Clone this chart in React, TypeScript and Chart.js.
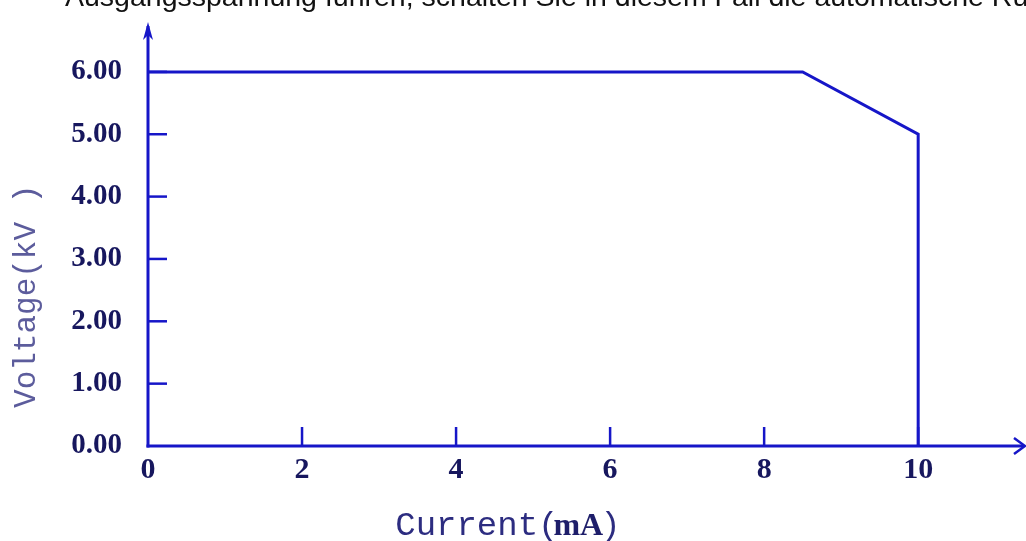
import React, { useEffect, useRef } from "react";
import { Chart, registerables } from "chart.js";

Chart.register(...registerables);

// Data
const currentValues = [0, 8.5, 10, 10]; // mA
const voltageValues = [6, 6, 5, 0]; // kV
const xTickValues = [0, 2, 4, 6, 8, 10];
const yTickValues = [0, 1, 2, 3, 4, 5, 6];
const xAxisMax = 11.4;
const yAxisMax = 6.8;
const xTitleMain = "Current";
const xTitleUnit = "mA";
const yTitle = "Voltage(kV )";
const topText =
  "Ausgangsspannung führen, schalten Sie in diesem Fall die automatische Rückstellung ein";

const BLUE = "#1616c8";
const NAVY = "#17175e";

const axesPlugin = {
  id: "arrowAxes",
  beforeDatasetsDraw(chart: any) {
    const { ctx, scales } = chart;
    const xs = scales.x;
    const ys = scales.y;
    const x0 = xs.getPixelForValue(0);
    const y0 = ys.getPixelForValue(0);
    const xEnd = xs.getPixelForValue(xAxisMax);
    const yEnd = ys.getPixelForValue(yAxisMax);
    ctx.save();
    ctx.strokeStyle = BLUE;
    ctx.fillStyle = BLUE;
    ctx.lineWidth = 3;
    ctx.lineCap = "butt";
    // y axis
    ctx.beginPath();
    ctx.moveTo(x0, y0 + 1.5);
    ctx.lineTo(x0, yEnd + 4);
    ctx.stroke();
    // y arrow head
    ctx.beginPath();
    ctx.moveTo(x0, yEnd);
    ctx.lineTo(x0 - 5, yEnd + 18);
    ctx.lineTo(x0, yEnd + 13);
    ctx.lineTo(x0 + 5, yEnd + 18);
    ctx.closePath();
    ctx.fill();
    // x axis
    ctx.beginPath();
    ctx.moveTo(x0 - 1.5, y0);
    ctx.lineTo(xEnd - 2, y0);
    ctx.stroke();
    // x arrow head (chevron)
    ctx.lineWidth = 2.5;
    ctx.beginPath();
    ctx.moveTo(xEnd - 12, y0 - 8);
    ctx.lineTo(xEnd - 1, y0);
    ctx.lineTo(xEnd - 12, y0 + 8);
    ctx.stroke();
    // inner ticks
    ctx.lineWidth = 2.5;
    yTickValues.forEach((v) => {
      if (v === 0) return;
      const py = ys.getPixelForValue(v);
      ctx.beginPath();
      ctx.moveTo(x0, py);
      ctx.lineTo(x0 + 19, py);
      ctx.stroke();
    });
    xTickValues.forEach((v) => {
      if (v === 0) return;
      const px = xs.getPixelForValue(v);
      ctx.beginPath();
      ctx.moveTo(px, y0);
      ctx.lineTo(px, y0 - 19);
      ctx.stroke();
    });
    ctx.restore();
  },
  afterDraw(chart: any) {
    const { ctx, scales } = chart;
    const xs = scales.x;
    const ys = scales.y;
    ctx.save();
    // x title
    ctx.textBaseline = "alphabetic";
    ctx.textAlign = "left";
    const tx = xs.getPixelForValue(3.21);
    const ty = ys.getPixelForValue(0) + 89;
    ctx.fillStyle = "#2c2c80";
    ctx.font = "34px 'Liberation Mono'";
    ctx.fillText(xTitleMain + "(", tx, ty);
    const w1 = ctx.measureText(xTitleMain + "(").width;
    ctx.fillStyle = "#1e1e6a";
    ctx.font = "bold 32px 'Liberation Serif'";
    ctx.fillText(xTitleUnit, tx + w1 - 5, ty);
    const w2 = ctx.measureText(xTitleUnit).width;
    ctx.fillStyle = "#2c2c80";
    ctx.font = "34px 'Liberation Mono'";
    ctx.fillText(")", tx + w1 - 5 + w2 - 3, ty);
    // y title
    ctx.translate(27, ys.getPixelForValue(2.4));
    ctx.rotate(-Math.PI / 2);
    ctx.fillStyle = "#5c5c9c";
    ctx.font = "31px 'Liberation Mono'";
    ctx.textAlign = "center";
    ctx.textBaseline = "middle";
    ctx.fillText(yTitle, 0, 0);
    ctx.restore();
  },
};

export default function App() {
  const canvasRef = useRef<HTMLCanvasElement | null>(null);

  useEffect(() => {
    document.body.style.margin = "0";
    const canvas = canvasRef.current;
    if (!canvas) return;
    const chart = new Chart(canvas, {
      type: "scatter",
      data: {
        datasets: [
          {
            data: currentValues.map((c, i) => ({ x: c, y: voltageValues[i] })),
            showLine: true,
            borderColor: BLUE,
            borderWidth: 3,
            pointRadius: 0,
            fill: false,
            tension: 0,
          },
        ],
      },
      options: {
        animation: false,
        responsive: false,
        devicePixelRatio: 1,
        layout: { padding: { top: 22, right: 0, left: 0, bottom: 0 } },
        plugins: {
          legend: { display: false },
          tooltip: { enabled: false },
          title: { display: false },
        },
        scales: {
          x: {
            type: "linear",
            min: 0,
            max: xAxisMax,
            grid: { display: false, drawTicks: false },
            border: { display: false },
            afterBuildTicks: (scale: any) => {
              scale.ticks = xTickValues.map((v) => ({ value: v }));
            },
            afterFit: (scale: any) => {
              scale.height = 95;
              scale.paddingLeft = 0;
              scale.paddingRight = 0;
            },
            ticks: {
              color: NAVY,
              padding: 6,
              font: { family: "'Liberation Serif'", size: 30, weight: "bold" },
              callback: (v: any) => String(v),
              maxRotation: 0,
              autoSkip: false,
            },
          },
          y: {
            type: "linear",
            min: 0,
            max: yAxisMax,
            grid: { display: false, drawTicks: false },
            border: { display: false },
            afterBuildTicks: (scale: any) => {
              scale.ticks = yTickValues.map((v) => ({ value: v }));
            },
            afterFit: (scale: any) => {
              scale.width = 148;
              scale.paddingTop = 0;
              scale.paddingBottom = 0;
            },
            ticks: {
              color: NAVY,
              padding: 26,
              font: { family: "'Liberation Serif'", size: 29, weight: "bold" },
              callback: (v: any) => Number(v).toFixed(2),
              autoSkip: false,
            },
          },
        },
      },
      plugins: [axesPlugin],
    } as any);
    return () => chart.destroy();
  }, []);

  return (
    <div style={{ position: "relative", width: 1026, height: 541, overflow: "hidden", background: "#fff" }}>
      <canvas ref={canvasRef} width={1026} height={541} style={{ display: "block" }} />
      <div
        style={{
          position: "absolute",
          left: 65,
          top: -18.2,
          fontFamily: "'Liberation Sans', Arial, sans-serif",
          fontSize: 28.5,
          lineHeight: "28.5px",
          whiteSpace: "nowrap",
          color: "#111",
          pointerEvents: "none",
        }}
      >
        {topText}
      </div>
    </div>
  );
}
